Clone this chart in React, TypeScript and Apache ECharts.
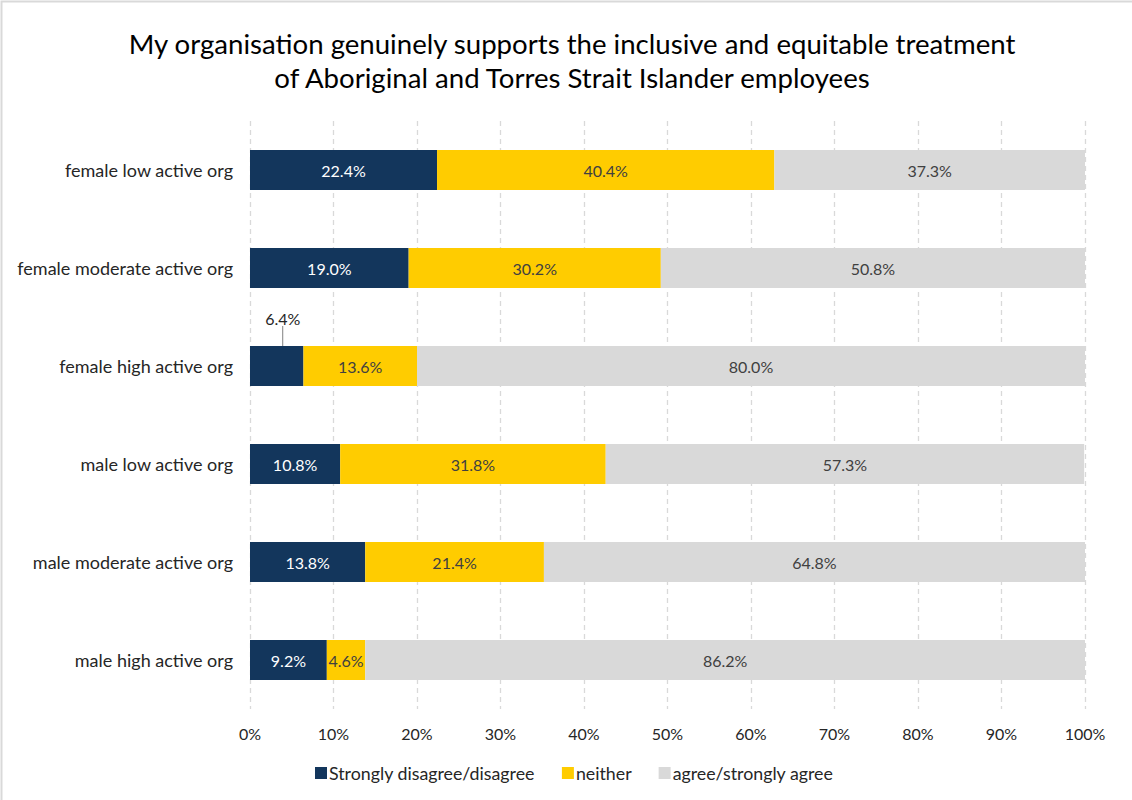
import React, { useEffect, useRef } from "react";
import * as echarts from "echarts";

const categories = [
  "female low active org",
  "female moderate active org",
  "female high active org",
  "male low active org",
  "male moderate active org",
  "male high active org",
];
const disagree = [22.4, 19.0, 6.4, 10.8, 13.8, 9.2];
const neither = [40.4, 30.2, 13.6, 31.8, 21.4, 4.6];
const agree = [37.3, 50.8, 80.0, 57.3, 64.8, 86.2];
const seriesNames = ["Strongly disagree/disagree", "neither", "agree/strongly agree"];
const xTicks = [0, 10, 20, 30, 40, 50, 60, 70, 80, 90, 100];

const FONT = "Lato";

export default function App() {
  const ref = useRef<HTMLDivElement>(null);
  useEffect(() => {
    if (!ref.current) return;
    const chart = echarts.init(ref.current, null, { renderer: "svg" });
    const labelFmt = (p: any) => p.value.toFixed(1) + "%";
    chart.setOption({
      animation: false,
      backgroundColor: "#ffffff",
      textStyle: { fontFamily: FONT },
      title: {
        text: "My organisation genuinely supports the inclusive and equitable treatment\nof Aboriginal and Torres Strait Islander employees",
        left: 567,
        top: 21,
        textAlign: "center",
        textStyle: { fontSize: 27.6, fontWeight: "normal", color: "#000", lineHeight: 34, fontFamily: FONT },
      },
      legend: {
        bottom: 13,
        left: 310,
        itemWidth: 12,
        itemHeight: 12,
        itemGap: 27,
        icon: "rect",
        textStyle: { fontSize: 17.8, color: "#262626", fontFamily: FONT, padding: [0, 0, 0, -3] },
        data: seriesNames,
      },
      grid: { left: 250, right: 47, top: 121, bottom: 91 },
      xAxis: {
        type: "value",
        min: 0,
        max: 100,
        interval: 10,
        axisLine: { show: false },
        axisTick: { show: false },
        axisLabel: {
          formatter: (v: number) => (xTicks.includes(v) ? v + "%" : ""),
          fontSize: 16,
          color: "#262626",
          margin: 16,
          fontFamily: FONT,
        },
        splitLine: { show: true, lineStyle: { color: "#D9D9D9", type: [5, 4], width: 1.3 } },
      },
      yAxis: {
        type: "category",
        inverse: true,
        data: categories,
        axisLine: { show: false },
        axisTick: { show: false },
        axisLabel: { fontSize: 18, color: "#262626", margin: 17, fontFamily: FONT },
      },
      series: [
        {
          name: seriesNames[0],
          type: "bar",
          stack: "total",
          barWidth: 40,
          data: disagree.map((v, i) =>
            i === 2
              ? { value: v, label: { position: "top", color: "#262626" } }
              : v
          ),
          itemStyle: { color: "#13365C" },
          label: { show: true, position: "inside", formatter: labelFmt, color: "#ffffff", fontSize: 16, fontFamily: FONT },
          labelLayout: (p: any) => (p.dataIndex === 2 ? { dx: 6, dy: -15 } : {}),
          labelLine: { show: true, lineStyle: { color: "#808080", width: 1 } },
        },
        {
          name: seriesNames[1],
          type: "bar",
          stack: "total",
          barWidth: 40,
          data: neither,
          itemStyle: { color: "#FFCC00" },
          label: { show: true, position: "inside", formatter: labelFmt, color: "#404040", fontSize: 16, fontFamily: FONT },
        },
        {
          name: seriesNames[2],
          type: "bar",
          stack: "total",
          barWidth: 40,
          data: agree,
          itemStyle: { color: "#D9D9D9" },
          label: { show: true, position: "inside", formatter: labelFmt, color: "#404040", fontSize: 16, fontFamily: FONT },
        },
      ],
      graphic: [
        {
          type: "rect",
          shape: { x: 1.5, y: 1.5, width: 1140, height: 810 },
          style: { fill: "none", stroke: "#D9D9D9", lineWidth: 2 },
          silent: true,
        },
      ],
    });
    return () => chart.dispose();
  }, []);
  return (
    <div
      ref={ref}
      style={{ position: "absolute", left: 0, top: 0, width: 1132, height: 800 }}
    />
  );
}
